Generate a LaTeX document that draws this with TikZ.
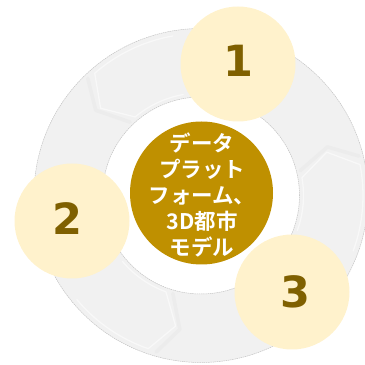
\documentclass[tikz,border=0pt]{standalone}
\usepackage{fontspec}
\newfontfamily\cjk[BoldFont=Noto Sans CJK JP Bold]{Noto Sans CJK JP}
\newfontfamily\numfont{DejaVu Sans}[BoldFont=DejaVu Sans Bold]
\definecolor{ringbase}{HTML}{F1F1F1}
\definecolor{ringshade}{HTML}{ECECEC}
\definecolor{ringlight}{HTML}{F8F8F8}
\definecolor{ringedge}{HTML}{C4C4C4}
\definecolor{numfill}{HTML}{FFF2CC}
\definecolor{numtext}{HTML}{7F6000}
\definecolor{hubfill}{HTML}{BF9000}
\tikzset{
  x=1pt,y=1pt,
  numdisc/.style={circle,fill=numfill,minimum size=115pt,inner sep=0pt},
  numlabel/.style={text=numtext,inner sep=0pt,font=\numfont\bfseries\fontsize{43}{43}\selectfont},
  hubdisc/.style={circle,fill=hubfill,minimum size=143pt,inner sep=0pt},
  hublabel/.style={text=white,inner sep=0pt,align=center,font=\cjk\bfseries\fontsize{21.5}{26}\selectfont},
  ringline/.style={ringedge,line width=0.5pt,dash pattern=on 1.5pt off 0.7pt},
  chevshade/.style={ringshade,line width=3.5pt,line join=round,line cap=round},
  chevlight/.style={ringlight,line width=1.3pt,line join=round,line cap=round},
}
\begin{document}
\begin{tikzpicture}
\useasboundingbox (0,0) rectangle (365,365);
\clip (0,0) rectangle (365,365);
\begin{scope}[shift={(201,169.5)}]
  \fill[ringbase,even odd rule] (0,0) circle[radius=167pt] (0,0) circle[radius=98.5pt];
  \draw[ringline] (0,0) circle[radius=167pt];
  \draw[ringline] (0,0) circle[radius=98.5pt];
  \foreach \r in {0,120,240}{
    \begin{scope}[rotate=\r]
      \draw[chevshade] (134:163pt) -- (141:135.5pt) -- (134:102pt);
      \draw[chevlight] (100:162pt) arc[start angle=100,end angle=131,radius=162pt]
        -- (139:133pt) -- (130:102.5pt) arc[start angle=130,end angle=100,radius=102.5pt];
    \end{scope}
  }
\end{scope}
\node[hubdisc] (hub) at (201.5,172) {};
\node[hublabel] (hubtext) at (202,170.5) {データ\\プラット\\フォーム、\\3D都市\\モデル};
\node[numdisc] (one) at (238,301) {};
\node[numdisc] (two) at (72,144) {};
\node[numdisc] (three) at (292,73) {};
\node[numlabel] (onetext) at (238,304) {1};
\node[numlabel] (twotext) at (67,146) {2};
\node[numlabel] (threetext) at (295,73) {3};
\end{tikzpicture}
\end{document}
